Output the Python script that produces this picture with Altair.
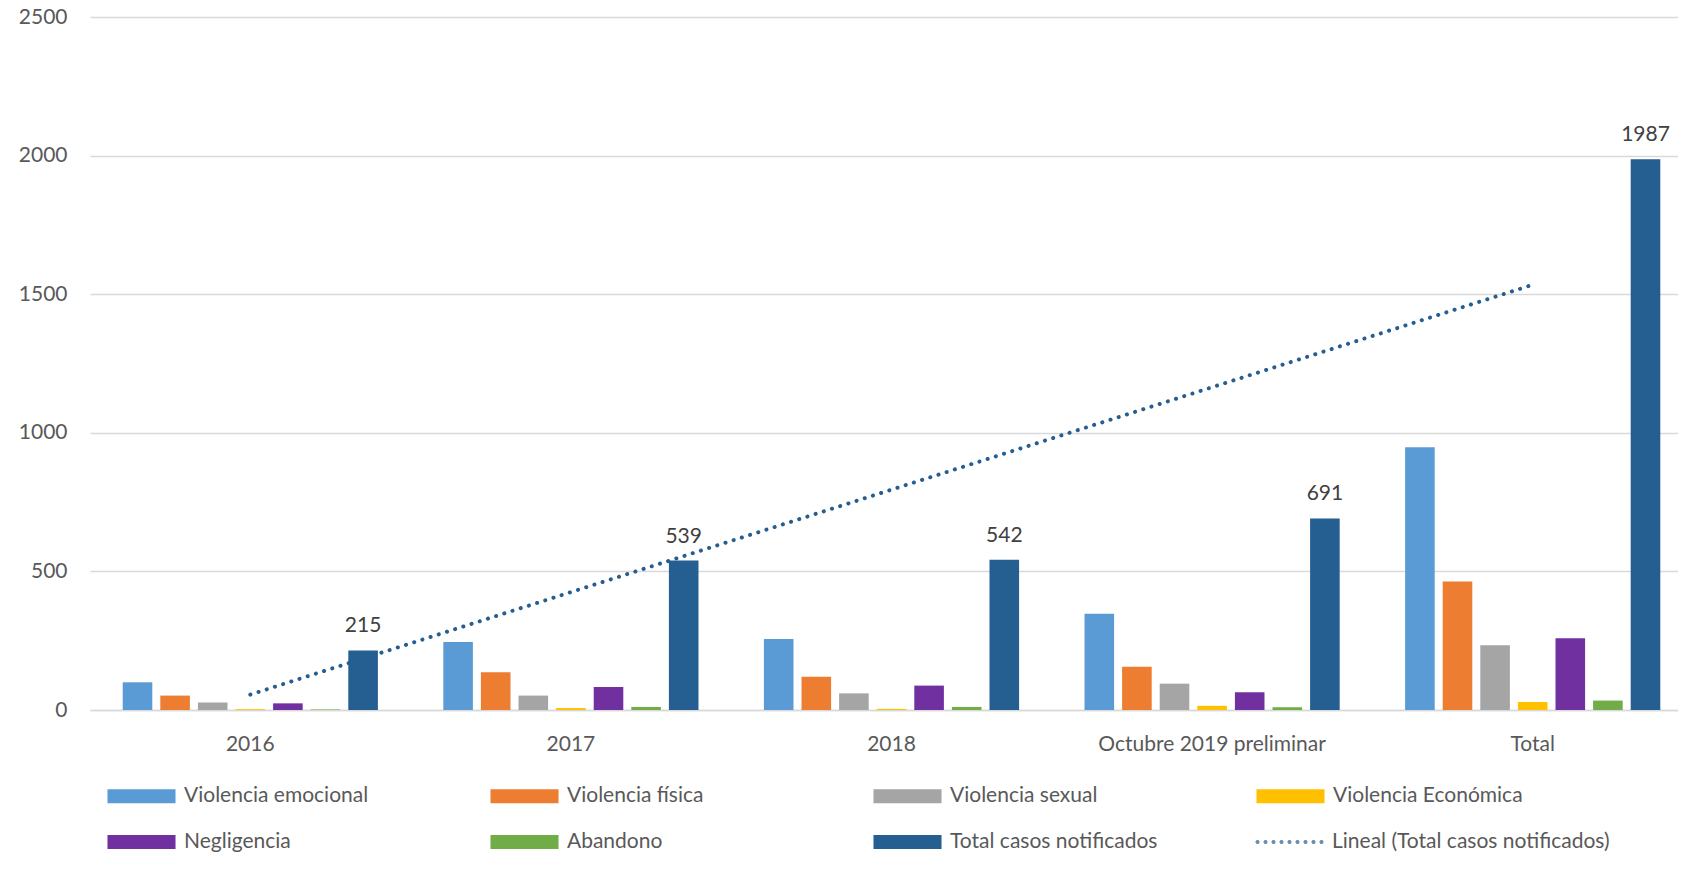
import altair as alt
import pandas as pd
import numpy as np

categorias = ["2016", "2017", "2018", "Octubre 2019 preliminar", "Total"]
series = ["Violencia emocional", "Violencia física", "Violencia sexual",
          "Violencia Económica", "Negligencia", "Abandono", "Total casos notificados"]
trend_name = "Lineal (Total casos notificados)"
colores = ["#5B9BD5", "#ED7D31", "#A5A5A5", "#FFC000", "#7030A0", "#70AD47", "#255E91"]
TREND_COLOR = "#255E91"

v_emocional = [100, 245, 256, 347, 948]
v_fisica = [52, 136, 120, 156, 464]
v_sexual = [27, 52, 60, 95, 234]
v_economica = [3, 7, 4, 15, 29]
v_negligencia = [24, 83, 88, 64, 259]
v_abandono = [2, 11, 11, 10, 34]
v_total = [215, 539, 542, 691, 1987]

valores = [v_emocional, v_fisica, v_sexual, v_economica, v_negligencia, v_abandono, v_total]

rows = []
for s, vals in zip(series, valores):
    for c, v in zip(categorias, vals):
        rows.append({"categoria": c, "serie": s, "valor": v})
df = pd.DataFrame(rows)

# linear trendline (least squares over category index, as the spreadsheet does)
idx = np.arange(1, len(categorias) + 1)
slope, intercept = np.polyfit(idx, v_total, 1)
df_trend = pd.DataFrame({"categoria": categorias,
                         "tendencia": slope * idx + intercept,
                         "serie": trend_name})

df_lab = df[df["serie"] == "Total casos notificados"]

FONT = "Lato"
TXT = "#595959"

x_enc = alt.X("categoria:N", sort=categorias,
              scale=alt.Scale(domain=categorias, range=[0, 1603], paddingInner=0, paddingOuter=0),
              axis=alt.Axis(title=None, labelAngle=0, ticks=False, tickSize=0, grid=False,
                            domainColor="#D9D9D9", domainWidth=1.5,
                            labelFont=FONT, labelFontSize=21, labelColor=TXT,
                            labelPadding=23, labelLimit=500))
y_scale = alt.Scale(domain=[0, 2500], nice=False)
y_axis = alt.Axis(title=None, values=[0, 500, 1000, 1500, 2000, 2500], format="d",
                  domain=False, ticks=False,
                  gridColor="#D9D9D9", gridWidth=1.3, labelFont=FONT, labelFontSize=21,
                  labelColor=TXT, labelPadding=23)
xoff = alt.XOffset("serie:N", sort=series,
                   scale=alt.Scale(domain=series, paddingInner=0.213, paddingOuter=0.87))

RECT = "M-4.86,-1H4.86V1H-4.86Z"
legend_common = dict(
    title=None, orient="none", symbolSize=196, symbolStrokeWidth=0,
    symbolOffset=27, labelOffset=32, labelFont=FONT, labelFontSize=21, labelColor=TXT,
    labelLimit=500, padding=0)

legend_bars = alt.Legend(
    legendX=14, legendY=768.5, columns=4, direction="horizontal", gridAlign="all",
    symbolType=RECT, rowPadding=24, columnPadding=95, **legend_common)

# dotted-line legend symbol: a row of small round-ish dots
dots = []
r = 0.3
for k in range(9):
    cx = -4.57 + k * 1.1425
    pts = []
    for j in range(8):
        a = np.pi / 8 + j * np.pi / 4
        pts.append(f"{cx + r * np.cos(a):.3f},{r * np.sin(a):.3f}")
    dots.append("M" + "L".join(pts) + "Z")
dot_path = "".join(dots)

legend_trend = alt.Legend(
    legendX=1162, legendY=814.5, symbolFillColor=TREND_COLOR, **legend_common)

bars = alt.Chart(df).mark_bar().encode(
    x=x_enc, xOffset=xoff,
    y=alt.Y("valor:Q", scale=y_scale, axis=y_axis),
    color=alt.Color("serie:N", scale=alt.Scale(domain=series, range=colores), legend=legend_bars),
)

line = alt.Chart(df_trend).mark_line(strokeDash=[0.1, 8.5], strokeCap="round", strokeWidth=4,
                                     color=TREND_COLOR).encode(
    x=x_enc,
    y=alt.Y("tendencia:Q", scale=y_scale, axis=y_axis),
)

trend_key = alt.Chart(df_trend).mark_point(size=0, filled=True, color=TREND_COLOR).encode(
    x=x_enc,
    y=alt.Y("tendencia:Q", scale=y_scale, axis=y_axis),
    shape=alt.Shape("serie:N", scale=alt.Scale(domain=[trend_name], range=[dot_path]),
                    legend=legend_trend),
)

labels = alt.Chart(df_lab).mark_text(font=FONT, fontSize=21, color="#404040",
                                     baseline="alphabetic", dy=-18).encode(
    x=x_enc, xOffset=xoff,
    y=alt.Y("valor:Q", scale=y_scale, axis=y_axis),
    text=alt.Text("valor:Q"),
)

chart = alt.layer(bars, line, trend_key, labels).properties(
    width=1588, height=693,
    background="white",
    autosize=alt.AutoSizeParams(type="none"),
    padding={"left": 82, "top": 9, "right": 0, "bottom": 143},
).configure_view(stroke=None)

chart.save("out.html", embed_options={"renderer": "svg", "actions": False})
